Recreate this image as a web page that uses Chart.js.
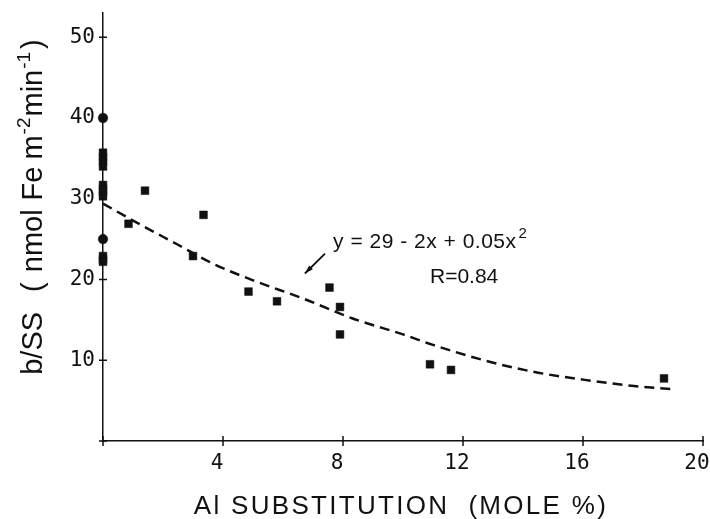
<!DOCTYPE html>
<html>
<head>
<meta charset="utf-8">
<script src="https://cdn.jsdelivr.net/npm/chart.js@4.4.1/dist/chart.umd.min.js"></script>
<style>
    html, body { margin: 0; padding: 0; background: #fff; }
    #wrap { width: 710px; height: 519px; }
</style>
</head>
<body>
<div id="wrap"><canvas id="chart" width="710" height="519"></canvas></div>
<script>
// --- data ---
const squareX = [0, 0, 0, 0, 0, 0, 0, 0, 0, 0, 0, 0.85, 1.4, 3.0, 3.35, 4.85, 5.8, 7.55, 7.9, 7.9, 10.9, 11.6, 18.7];
const squareY = [35.7, 35.1, 34.6, 34.0, 31.7, 31.2, 30.8, 30.3, 22.9, 22.5, 22.2, 26.9, 31.0, 22.9, 28.0, 18.5, 17.3, 19.0, 16.6, 13.2, 9.5, 8.8, 7.75];
const circleX = [0, 0];
const circleY = [40, 25];
// dashed fit curve
const curveX = [0, 1, 2.5, 3.7, 5, 6.7, 8.3, 10, 11, 12.7, 14.3, 16, 17.7, 19];
const curveY = [29.4, 27.3, 24.3, 21.9, 19.9, 17.6, 15.2, 13.2, 11.9, 10.0, 8.6, 7.6, 6.8, 6.4];
const xTicks = [0, 4, 8, 12, 16, 20];
const yTicks = [0, 10, 20, 30, 40, 50];

const ink = '#111';
const toPoints = (xs, ys) => xs.map((x, i) => ({ x: x, y: ys[i] }));

// axis titles, crossing tick marks and the equation note
const decorPlugin = {
    id: 'decor',
    afterDraw(chart) {
        const ctx = chart.ctx;
        const xs = chart.scales.x;
        const ys = chart.scales.y;
        const x0 = xs.getPixelForValue(0);
        const y0 = ys.getPixelForValue(0);
        ctx.save();
        ctx.strokeStyle = ink;
        ctx.lineWidth = 1.5;
        ctx.beginPath();
        yTicks.forEach(v => {
            const py = ys.getPixelForValue(v);
            ctx.moveTo(x0 - 4, py);
            ctx.lineTo(x0 + 4, py);
        });
        xTicks.forEach(v => {
            const px = xs.getPixelForValue(v);
            ctx.moveTo(px, y0 - 5);
            ctx.lineTo(px, y0 + 5);
        });
        ctx.stroke();

        // y title with superscripts
        ctx.fillStyle = ink;
        const big = '29px "Liberation Sans", Arial, sans-serif';
        const small = '19px "Liberation Sans", Arial, sans-serif';
        const parts = [
            { t: 'b/SS', sup: false, gap: 20 },
            { t: '(', sup: false, gap: 10 },
            { t: 'nmol', sup: false, gap: 9 },
            { t: 'Fe', sup: false, gap: 7 },
            { t: 'm', sup: false, gap: 1 },
            { t: '-2', sup: true, gap: 1 },
            { t: 'min', sup: false, gap: 1 },
            { t: '-1', sup: true, gap: 3 },
            { t: ')', sup: false, gap: 0 }
        ];
        let total = 0;
        parts.forEach(p => {
            ctx.font = p.sup ? small : big;
            p.w = ctx.measureText(p.t).width;
            total += p.w + p.gap;
        });
        ctx.save();
        ctx.translate(42, 207);
        ctx.rotate(-Math.PI / 2);
        ctx.textBaseline = 'alphabetic';
        let cx = -total / 2;
        parts.forEach(p => {
            ctx.font = p.sup ? small : big;
            ctx.fillText(p.t, cx, p.sup ? -12 : 0);
            cx += p.w + p.gap;
        });
        ctx.restore();

        // x title
        ctx.font = '26px "Liberation Sans", Arial, sans-serif';
        ctx.letterSpacing = '2.3px';
        ctx.textAlign = 'center';
        ctx.textBaseline = 'alphabetic';
        ctx.fillText('Al SUBSTITUTION  (MOLE %)', 401, 514);
        ctx.letterSpacing = '0px';

        // equation and R
        ctx.textAlign = 'left';
        ctx.font = '21px "Liberation Sans", Arial, sans-serif';
        ctx.letterSpacing = '0.5px';
        const eq = 'y = 29 - 2x + 0.05x';
        const ex = xs.getPixelForValue(7.67);
        const ey = ys.getPixelForValue(23.95);
        ctx.fillText(eq, ex, ey);
        const ew = ctx.measureText(eq).width;
        ctx.letterSpacing = '0px';
        ctx.font = '15px "Liberation Sans", Arial, sans-serif';
        ctx.fillText('2', ex + ew + 2, ey - 10);
        ctx.font = '21px "Liberation Sans", Arial, sans-serif';
        ctx.fillText('R=0.84', xs.getPixelForValue(10.9), ys.getPixelForValue(19.6));

        // arrow pointing at the curve
        const ax1 = xs.getPixelForValue(7.4), ay1 = ys.getPixelForValue(23.2);
        const ax2 = xs.getPixelForValue(6.73), ay2 = ys.getPixelForValue(20.74);
        ctx.lineWidth = 1.8;
        ctx.beginPath();
        ctx.moveTo(ax1, ay1);
        ctx.lineTo(ax2, ay2);
        ctx.stroke();
        const ang = Math.atan2(ay2 - ay1, ax2 - ax1);
        ctx.beginPath();
        ctx.moveTo(ax2, ay2);
        ctx.lineTo(ax2 - 9 * Math.cos(ang - 0.3), ay2 - 9 * Math.sin(ang - 0.3));
        ctx.lineTo(ax2 - 9 * Math.cos(ang + 0.3), ay2 - 9 * Math.sin(ang + 0.3));
        ctx.closePath();
        ctx.fill();
        ctx.restore();
    }
};

const tickFont = { family: '"DejaVu Sans Mono", "Liberation Mono", monospace', size: 21 };

new Chart(document.getElementById('chart').getContext('2d'), {
    type: 'scatter',
    data: {
        datasets: [
            {
                label: 'fit',
                data: toPoints(curveX, curveY),
                showLine: true,
                borderColor: ink,
                borderWidth: 2.5,
                borderDash: [10, 6],
                pointRadius: 0,
                cubicInterpolationMode: 'monotone',
                fill: false
            },
            {
                label: 'squares',
                data: toPoints(squareX, squareY),
                pointStyle: 'rect',
                pointRadius: 5.5,
                backgroundColor: ink,
                borderColor: ink,
                borderWidth: 0.5
            },
            {
                label: 'circles',
                data: toPoints(circleX, circleY),
                pointStyle: 'circle',
                pointRadius: 4.8,
                backgroundColor: ink,
                borderColor: ink,
                borderWidth: 0.5
            }
        ]
    },
    options: {
        responsive: false,
        animation: false,
        clip: false,
        layout: { padding: { top: 13, right: 7, left: 0, bottom: 0 } },
        plugins: { legend: { display: false }, tooltip: { enabled: false } },
        scales: {
            x: {
                type: 'linear',
                min: 0,
                max: 20,
                grid: { display: false },
                border: { display: true, color: ink, width: 1.5 },
                afterBuildTicks: s => { s.ticks = xTicks.map(v => ({ value: v })); },
                afterFit: s => { s.height = 78; s.paddingLeft = 0; s.paddingRight = 0; },
                ticks: {
                    color: ink,
                    font: tickFont,
                    padding: 2,
                    labelOffset: -6,
                    maxRotation: 0,
                    callback: v => (v === 0 ? '' : String(v))
                }
            },
            y: {
                type: 'linear',
                min: 0,
                max: 53,
                grid: { display: false },
                border: { display: true, color: ink, width: 1.5 },
                afterBuildTicks: s => { s.ticks = yTicks.map(v => ({ value: v })); },
                afterFit: s => { s.width = 103; s.paddingTop = 0; s.paddingBottom = 0; },
                ticks: {
                    color: ink,
                    font: tickFont,
                    padding: 0,
                    callback: v => (v === 0 ? '' : String(v))
                }
            }
        }
    },
    plugins: [decorPlugin]
});
</script>
</body>
</html>
